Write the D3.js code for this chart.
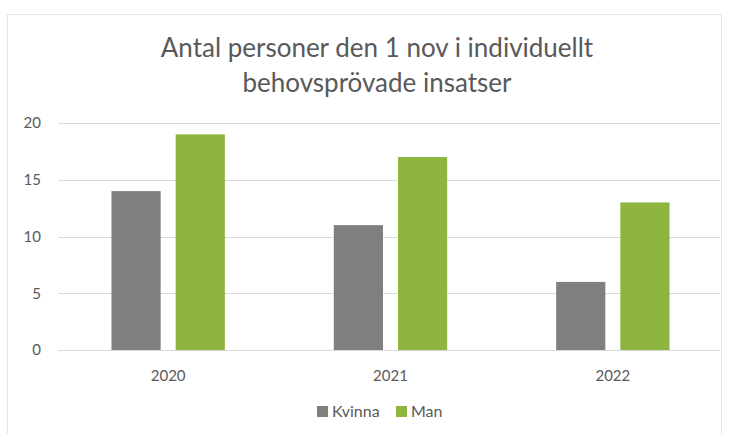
<!DOCTYPE html>
<html>
<head>
<meta charset="utf-8">
<script src="https://cdn.jsdelivr.net/npm/d3@7"></script>
<style>
  body { margin: 0; background: #fff; }
  text { font-family: Lato, "Open Sans", sans-serif; fill: #595959; }
</style>
</head>
<body>
<svg id="chart" width="733" height="434"></svg>
<script>
const years = ["2020", "2021", "2022"];
const seriesNames = ["Kvinna", "Man"];
const kvinna = [14, 11, 6];
const man = [19, 17, 13];
const yTicks = [0, 5, 10, 15, 20];
const titleLines = ["Antal personer den 1 nov i individuellt", "behovsprövade insatser"];

const colors = { Kvinna: "#7f7f7f", Man: "#8db53f" };

const svg = d3.select("#chart");

// chart frame
svg.append("rect")
  .attr("x", 7.5).attr("y", 14.5)
  .attr("width", 714).attr("height", 430)
  .attr("fill", "none")
  .attr("stroke", "#e6e6e6");

const x0 = d3.scaleBand()
  .domain(years)
  .range([57, 724])
  .paddingInner(0.49)
  .paddingOuter(0.245);

const x1 = d3.scaleBand()
  .domain(seriesNames)
  .range([0, x0.bandwidth()])
  .paddingInner(0.234);

const y = d3.scaleLinear().domain([0, 20]).range([350, 123]);

// gridlines
svg.append("g")
  .selectAll("line")
  .data(yTicks)
  .enter()
  .append("line")
  .attr("x1", 58).attr("x2", 720)
  .attr("y1", (d) => Math.round(y(d)) + 0.5)
  .attr("y2", (d) => Math.round(y(d)) + 0.5)
  .attr("stroke", "#d9d9d9");

// y axis labels
const yAxis = d3.axisLeft(y).tickValues(yTicks).tickSize(0).tickPadding(0);
svg.append("g")
  .attr("transform", "translate(41,0)")
  .call(yAxis)
  .call((g) => g.select(".domain").remove())
  .selectAll("text")
  .attr("font-size", 15)
  .style("font-family", "Lato, sans-serif")
  .attr("fill", "#595959");

// x axis labels
const xAxis = d3.axisBottom(x0).tickSize(0).tickPadding(0);
svg.append("g")
  .attr("transform", "translate(0,370)")
  .call(xAxis)
  .call((g) => g.select(".domain").remove())
  .selectAll("text")
  .attr("font-size", 15)
  .style("font-family", "Lato, sans-serif")
  .attr("fill", "#595959");

// bars
const rows = years.map((yr, i) => ({ year: yr, Kvinna: kvinna[i], Man: man[i] }));
svg.append("g")
  .selectAll("g")
  .data(rows)
  .enter()
  .append("g")
  .attr("transform", (d) => `translate(${x0(d.year)},0)`)
  .selectAll("rect")
  .data((d) => seriesNames.map((k) => ({ key: k, value: d[k] })))
  .enter()
  .append("rect")
  .attr("x", (d) => x1(d.key))
  .attr("y", (d) => y(d.value))
  .attr("width", x1.bandwidth())
  .attr("height", (d) => y(0) - y(d.value))
  .attr("fill", (d) => colors[d.key]);

// title
svg.append("g")
  .selectAll("text")
  .data(titleLines)
  .enter()
  .append("text")
  .attr("x", 377)
  .attr("y", (d, i) => 57 + i * 35)
  .attr("text-anchor", "middle")
  .attr("font-size", 26)
  .text((d) => d);

// legend
const legendX = [317, 396];
const legend = svg.append("g")
  .selectAll("g")
  .data(seriesNames)
  .enter()
  .append("g")
  .attr("transform", (d, i) => `translate(${legendX[i]},406)`);
legend.append("rect")
  .attr("width", 11).attr("height", 11)
  .attr("fill", (d) => colors[d]);
legend.append("text")
  .attr("x", 15).attr("y", 11)
  .attr("font-size", 16)
  .text((d) => d);
</script>
</body>
</html>
